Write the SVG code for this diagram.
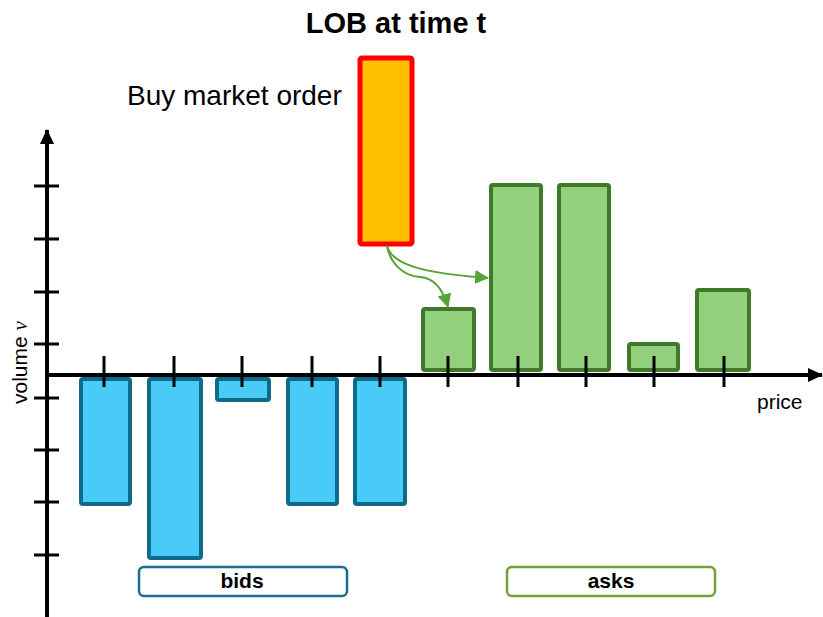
<svg xmlns="http://www.w3.org/2000/svg" width="823" height="617" viewBox="0 0 823 617">
<style>
.bid{fill:#48cbf6;stroke:#0e6b8a;stroke-width:4}
.ask{fill:#92d07d;stroke:#3f7a2b;stroke-width:4}
.ax{stroke:#000;stroke-width:4;fill:none}
.tk{stroke:#000;stroke-width:3}
.flow{fill:none;stroke:#56a33a;stroke-width:2}
text{font-family:"Liberation Sans",Arial,sans-serif;fill:#000}
</style>
<defs>
<marker id="ah" markerWidth="15" markerHeight="14" refX="14" refY="7" orient="auto" markerUnits="userSpaceOnUse" viewBox="0 0 15 14">
<path d="M0,0 L15,7 L0,14 Z" fill="#000"/>
</marker>
<marker id="gh" markerWidth="14" markerHeight="14" refX="13" refY="7" orient="auto" markerUnits="userSpaceOnUse" viewBox="0 0 14 14">
<path d="M0,0 L14,7 L0,14 Z" fill="#56a33a"/>
</marker>
</defs>
<text x="396" y="33" font-size="29" font-weight="bold" text-anchor="middle">LOB at time t</text>
<text x="127" y="105" font-size="28">Buy market order</text>
<g id="bids">
<rect class="bid" x="81" y="379" width="49" height="125" rx="2"/>
<rect class="bid" x="149" y="379" width="52" height="179" rx="2"/>
<rect class="bid" x="217" y="379" width="52" height="21" rx="2"/>
<rect class="bid" x="288" y="379" width="49" height="125" rx="2"/>
<rect class="bid" x="355" y="379" width="50" height="125" rx="2"/>
</g>
<g id="asks">
<rect class="ask" x="423" y="309" width="51" height="61" rx="2"/>
<rect class="ask" x="491" y="185" width="50" height="185" rx="2"/>
<rect class="ask" x="559" y="185" width="50" height="185" rx="2"/>
<rect class="ask" x="629" y="344" width="49" height="26" rx="2"/>
<rect class="ask" x="697" y="290" width="52" height="80" rx="2"/>
</g>
<g id="order">
<rect x="360" y="58" width="52" height="186" rx="2" fill="#ffc000" stroke="#ff0000" stroke-width="5"/>
</g>
<g id="axes">
<line class="ax" x1="47" y1="617" x2="47" y2="130" marker-end="url(#ah)"/>
<line class="ax" x1="47" y1="375" x2="822" y2="375" marker-end="url(#ah)"/>
<g class="tk">
<line x1="34" y1="186" x2="59" y2="186"/>
<line x1="34" y1="239" x2="59" y2="239"/>
<line x1="34" y1="292" x2="59" y2="292"/>
<line x1="34" y1="344" x2="59" y2="344"/>
<line x1="34" y1="398" x2="59" y2="398"/>
<line x1="34" y1="450" x2="59" y2="450"/>
<line x1="34" y1="502" x2="59" y2="502"/>
<line x1="34" y1="555" x2="59" y2="555"/>
<line x1="104" y1="356" x2="104" y2="387"/>
<line x1="174" y1="356" x2="174" y2="387"/>
<line x1="242" y1="356" x2="242" y2="387"/>
<line x1="312" y1="356" x2="312" y2="387"/>
<line x1="380" y1="356" x2="380" y2="387"/>
<line x1="448" y1="356" x2="448" y2="387"/>
<line x1="518" y1="356" x2="518" y2="387"/>
<line x1="586" y1="356" x2="586" y2="387"/>
<line x1="654" y1="356" x2="654" y2="387"/>
<line x1="724" y1="356" x2="724" y2="387"/>
</g>
</g>
<text x="757" y="409" font-size="21">price</text>
<text transform="translate(27,404) rotate(-90)" font-size="21">volume <tspan font-family="'Liberation Serif',serif" font-style="italic">v</tspan></text>
<g id="connectors">
<path class="flow" d="M387,246 C392,264 420,273 488,278" marker-end="url(#gh)"/>
<path class="flow" d="M387,246 C390,262 402,276 420,277 C436,278 444,293 448,307" marker-end="url(#gh)"/>
</g>
<g id="bids-label">
<rect x="139" y="567" width="208" height="29" rx="5" fill="#fff" stroke="#1a6e8e" stroke-width="2.5"/>
<text x="242" y="588" font-size="21" font-weight="bold" text-anchor="middle">bids</text>
</g>
<g id="asks-label">
<rect x="507" y="567" width="208" height="29" rx="5" fill="#fff" stroke="#77a033" stroke-width="2.5"/>
<text x="611" y="588" font-size="21" font-weight="bold" text-anchor="middle">asks</text>
</g>
</svg>
